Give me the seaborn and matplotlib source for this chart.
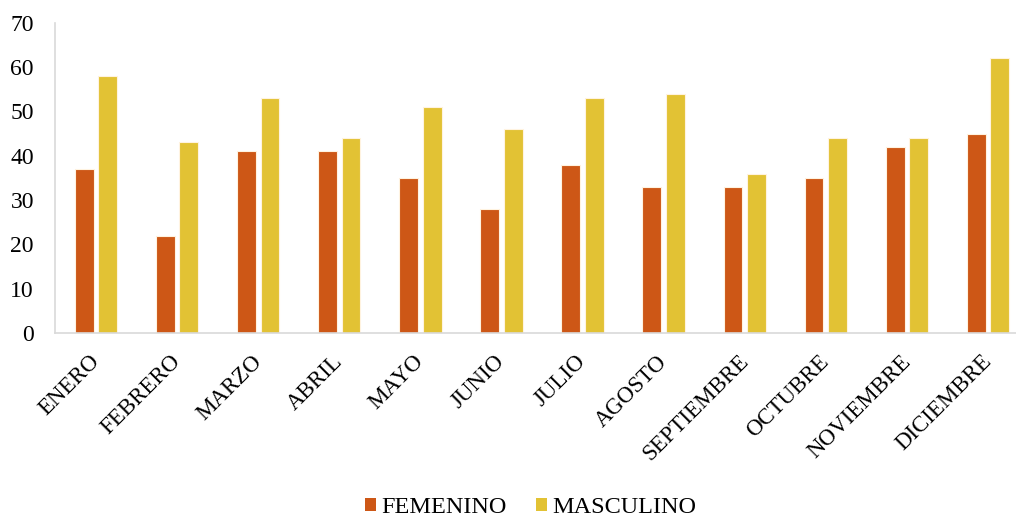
import matplotlib
matplotlib.use("Agg")
import matplotlib.pyplot as plt
import matplotlib.transforms as mtransforms
import seaborn as sns
import pandas as pd
from matplotlib.patches import Patch

meses = ["ENERO", "FEBRERO", "MARZO", "ABRIL", "MAYO", "JUNIO", "JULIO",
         "AGOSTO", "SEPTIEMBRE", "OCTUBRE", "NOVIEMBRE", "DICIEMBRE"]
femenino = [37, 22, 41, 41, 35, 28, 38, 33, 33, 35, 42, 45]
masculino = [58, 43, 53, 44, 51, 46, 53, 54, 36, 44, 44, 62]
series = ["FEMENINO", "MASCULINO"]
colores = ["#CD5716", "#E2C234"]

df = pd.DataFrame({
    "mes": meses * 2,
    "valor": femenino + masculino,
    "sexo": [series[0]] * len(meses) + [series[1]] * len(meses),
})

sns.set_theme(style="white")
plt.rcParams["font.family"] = ["Liberation Serif", "DejaVu Serif"]
plt.rcParams["text.color"] = "black"
plt.rcParams["xtick.color"] = "black"
plt.rcParams["ytick.color"] = "black"

fig = plt.figure(figsize=(10.16, 5.18), dpi=100)
# the plot area runs slightly past the right edge of the canvas
ax = fig.add_axes([0.0546, 0.357, 0.9577, 0.599])

sns.barplot(data=df, x="mes", y="valor", hue="sexo", order=meses,
            hue_order=series, palette=colores, saturation=1,
            width=0.58, gap=0.2, edgecolor="#FFF3E0", linewidth=0.8,
            ax=ax, legend=False)

ax.set_ylim(0, 70)
ax.set_yticks(range(0, 71, 10))
ax.set_xlim(-0.5, len(meses) - 0.5)
ax.set_xlabel("")
ax.set_ylabel("")
ax.tick_params(axis="y", labelsize=17, length=0, pad=15.5)
ax.tick_params(axis="x", labelsize=16.5, length=0, pad=13)

offset = mtransforms.ScaledTranslation(-7 / 100, 0, fig.dpi_scale_trans)
for lbl in ax.get_xticklabels():
    lbl.set_rotation(45)
    lbl.set_ha("right")
    lbl.set_rotation_mode("anchor")
    lbl.set_transform(lbl.get_transform() + offset)

for side in ["top", "right"]:
    ax.spines[side].set_visible(False)
for side in ["left", "bottom"]:
    ax.spines[side].set_color("#D9D9D9")
    ax.spines[side].set_linewidth(1.2)

handles = [Patch(facecolor=c, edgecolor="none") for c in colores]
fig.legend(handles, series, loc="center", bbox_to_anchor=(0.522, 0.02),
           ncol=2, frameon=False, fontsize=17.5, handlelength=0.45,
           handleheight=0.45, handletextpad=0.22, columnspacing=1.2,
           borderpad=0.1)

fig.savefig("out.png", dpi=100)
